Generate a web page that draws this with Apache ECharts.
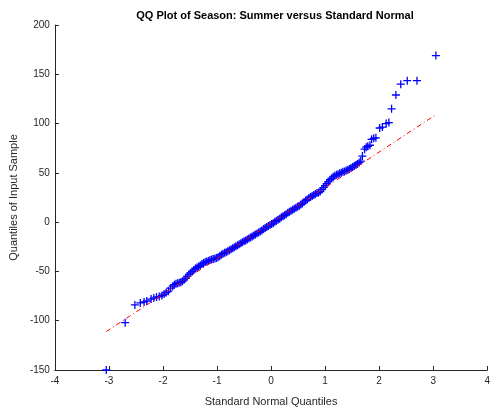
<!DOCTYPE html>
<html>
<head>
<meta charset="utf-8">
<script src="https://cdn.jsdelivr.net/npm/echarts@6/dist/echarts.min.js"></script>
<style>
  html, body { margin: 0; padding: 0; background: #fff; }
  #chart { width: 493px; height: 412px; }
</style>
</head>
<body>
<div id="chart"></div>
<script>
// standard normal quantiles (x) vs sample quantiles (y)
var qx = [-3.05, -2.70, -2.52, -2.42, -2.35, -2.30, -2.22, -2.17, -2.12, -2.07,
  -2.02, -1.98, -1.94, -1.90, -1.86, -1.82, -1.79, -1.76, -1.73, -1.70,
  -1.67, -1.64, -1.61, -1.58, -1.55, -1.52, -1.49, -1.46, -1.43, -1.40,
  -1.37, -1.34, -1.31, -1.28, -1.25, -1.22, -1.19, -1.16, -1.13, -1.10,
  -1.07, -1.04, -1.01, -0.98, -0.95, -0.92, -0.89, -0.86, -0.83, -0.80,
  -0.77, -0.74, -0.71, -0.68, -0.65, -0.62, -0.59, -0.56, -0.53, -0.50,
  -0.47, -0.44, -0.41, -0.38, -0.35, -0.32, -0.29, -0.26, -0.23, -0.20,
  -0.17, -0.14, -0.11, -0.08, -0.05, -0.02, 0.01, 0.04, 0.07, 0.10,
  0.13, 0.16, 0.19, 0.22, 0.25, 0.28, 0.31, 0.34, 0.37, 0.40,
  0.43, 0.46, 0.49, 0.52, 0.55, 0.58, 0.61, 0.64, 0.67, 0.70,
  0.73, 0.76, 0.79, 0.82, 0.85, 0.88, 0.91, 0.94, 0.97, 1.00,
  1.03, 1.06, 1.09, 1.12, 1.15, 1.18, 1.21, 1.24, 1.27, 1.30,
  1.33, 1.36, 1.39, 1.42, 1.45, 1.48, 1.51, 1.54, 1.57, 1.60,
  1.63, 1.66, 1.69, 1.73, 1.76, 1.79, 1.83, 1.86, 1.90, 1.94,
  2.01, 2.06, 2.13, 2.18, 2.23, 2.31, 2.40, 2.52, 2.70, 3.05];
var qy = [-150, -102, -84, -82, -81, -80, -78, -77, -76, -75.5,
  -74.5, -73, -71.5, -70, -67, -65, -63.5, -62.5, -62, -61.5,
  -61, -60, -58.5, -57, -55, -53, -51.5, -50, -48.5, -47,
  -46, -45, -44, -42.5, -41.5, -40.5, -40, -39.5, -38.5, -38,
  -37.5, -37, -36.5, -35.5, -34.5, -33, -32, -31, -30.5, -29.5,
  -28.5, -27.5, -26.5, -25.5, -24.5, -23.5, -22.5, -21.5, -20.5, -19.5,
  -18.5, -17.5, -16.5, -15.5, -14.5, -13.5, -12.5, -11.5, -10.5, -9.5,
  -8.5, -7, -6, -5, -4, -3, -2, -1, 0.5, 1.5,
  2.5, 3.5, 5, 6, 7, 8, 9.5, 10.5, 11.5, 12.5,
  13.5, 14.5, 15.5, 16.5, 18, 19, 20.5, 22, 23, 24.5,
  25.5, 26.5, 27.5, 28.5, 29.5, 30, 31, 33, 35, 37,
  39, 41, 43, 44.5, 46, 47, 48, 48.5, 49.5, 50,
  51, 51.5, 52.5, 53, 54, 55, 56, 57, 58, 59,
  60.5, 62, 67, 74, 76, 77, 78, 84, 85, 85.5,
  95.5, 96.5, 100, 101, 115, 129, 140, 143.5, 143.5, 169];

// reference line end points
var lineX = [-3.05, 3.05];
var lineY = [-111, 109];

var xTicks = [-4, -3, -2, -1, 0, 1, 2, 3, 4];
var yTicks = [-150, -100, -50, 0, 50, 100, 150, 200];

var pts = [];
for (var i = 0; i < qx.length; i++) {
    pts.push([qx[i], qy[i]]);
}
var ref = [[lineX[0], lineY[0]], [lineX[1], lineY[1]]];

var txt = '#262626';
var font = 'Liberation Sans, Arial, Helvetica, sans-serif';
var plus = 'path://M4.2,0H5.8V4.2H10V5.8H5.8V10H4.2V5.8H0V4.2H4.2Z';

var chart = echarts.init(document.getElementById('chart'));
var option = {
    animation: false,
    backgroundColor: '#fff',
    textStyle: { fontFamily: font },
    title: {
        text: 'QQ Plot of Season: Summer versus Standard Normal',
        left: 270,
        top: 5,
        textAlign: 'center',
        textStyle: { fontSize: 11, fontWeight: 'bold', color: '#000', fontFamily: font }
    },
    grid: { left: 48, right: 1, top: 25, bottom: 35, containLabel: false },
    xAxis: {
        type: 'value',
        min: xTicks[0],
        max: xTicks[xTicks.length - 1],
        interval: 1,
        name: 'Standard Normal Quantiles',
        nameLocation: 'middle',
        nameGap: 26,
        nameTextStyle: { fontSize: 11, color: txt, fontFamily: font },
        axisLine: { onZero: false, lineStyle: { color: txt, width: 1 } },
        axisTick: { inside: true, length: 4, lineStyle: { color: txt } },
        axisLabel: { fontSize: 10, color: txt, margin: 6, fontFamily: font, showMaxLabel: true, showMinLabel: true },
        splitLine: { show: false }
    },
    yAxis: {
        type: 'value',
        min: yTicks[0],
        max: yTicks[yTicks.length - 1],
        interval: 50,
        name: 'Quantiles of Input Sample',
        nameLocation: 'middle',
        nameGap: 31,
        nameTextStyle: { fontSize: 11, color: txt, fontFamily: font },
        axisLine: { show: true, onZero: false, lineStyle: { color: txt, width: 1 } },
        axisTick: { show: true, inside: true, length: 4, lineStyle: { color: txt } },
        axisLabel: { fontSize: 10, color: txt, margin: 5, fontFamily: font },
        splitLine: { show: false }
    },
    series: [
        {
            type: 'scatter',
            data: pts,
            symbol: plus,
            symbolSize: 8,
            itemStyle: { color: '#0000ff', opacity: 1 },
            z: 2
        },
        {
            type: 'line',
            data: ref,
            symbol: 'none',
            lineStyle: { color: '#ff0000', width: 1, type: [5, 3, 1, 3] },
            z: 3
        }
    ]
};
chart.setOption(option);
</script>
</body>
</html>
